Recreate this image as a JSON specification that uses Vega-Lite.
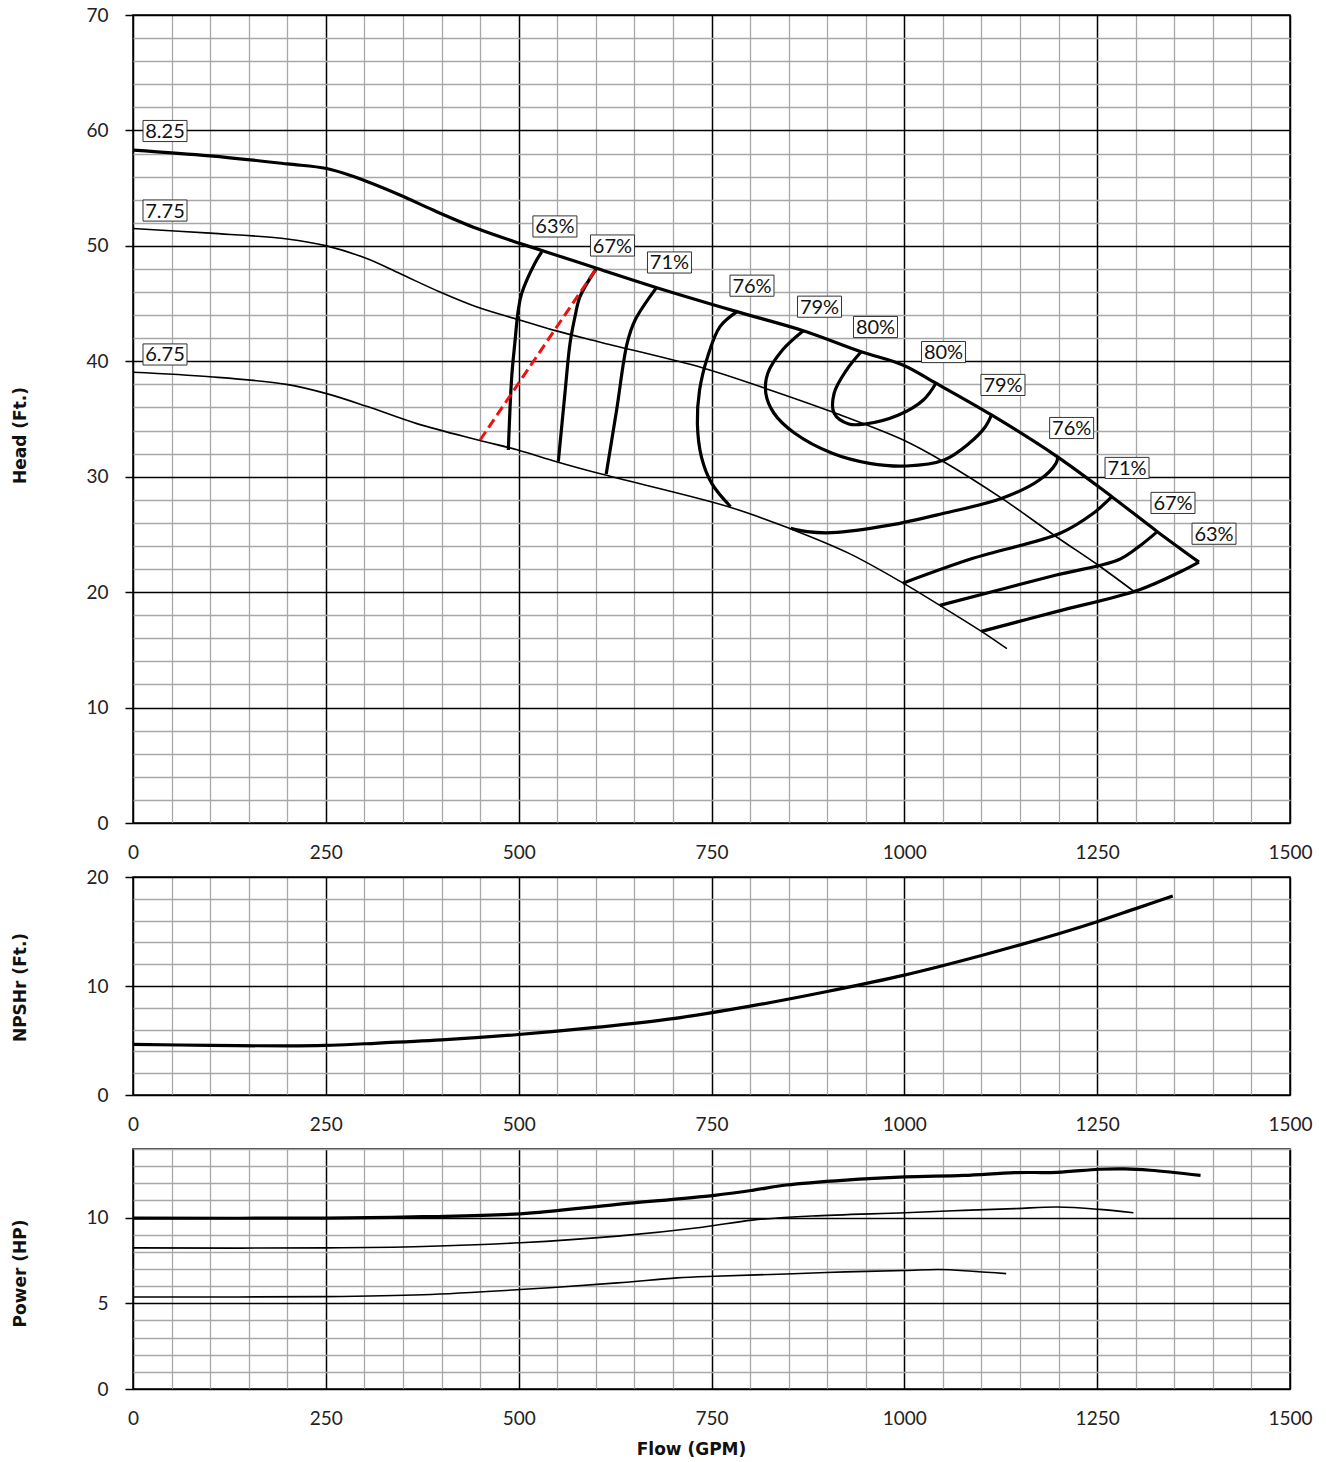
{
  "$schema": "https://vega.github.io/schema/vega-lite/v6.json",
  "padding": {"left": 10, "top": 5, "right": 5, "bottom": 0},
  "bounds": "flush",
  "spacing": 54,
  "config": {
    "view": {"stroke": "#000", "strokeWidth": 1.5},
    "axis": {
      "labelFont": "Lato", "labelFontSize": 19, "labelColor": "#222",
      "titleFont": "DejaVu Sans", "titleFontWeight": "bold", "titleFontSize": 17, "titleColor": "#111",
      "domain": false, "labelOverlap": false, "labelFlush": false, "gridOpacity": 1
    }
  },
  "datasets": {
    "head": [
      {"s": "8.25", "i": 0, "q": 0, "h": 58.3}, {"s": "8.25", "i": 1, "q": 100, "h": 57.8}, {"s": "8.25", "i": 2, "q": 200, "h": 57.1}, {"s": "8.25", "i": 3, "q": 251, "h": 56.7}, {"s": "8.25", "i": 4, "q": 286, "h": 56.0}, {"s": "8.25", "i": 5, "q": 346, "h": 54.4}, {"s": "8.25", "i": 6, "q": 389, "h": 53.1}, {"s": "8.25", "i": 7, "q": 446, "h": 51.5}, {"s": "8.25", "i": 8, "q": 502, "h": 50.2}, {"s": "8.25", "i": 9, "q": 530, "h": 49.6}, {"s": "8.25", "i": 10, "q": 601, "h": 48.06}, {"s": "8.25", "i": 11, "q": 678, "h": 46.4}, {"s": "8.25", "i": 12, "q": 783, "h": 44.3}, {"s": "8.25", "i": 13, "q": 869, "h": 42.65}, {"s": "8.25", "i": 14, "q": 944, "h": 40.83}, {"s": "8.25", "i": 15, "q": 998, "h": 39.68}, {"s": "8.25", "i": 16, "q": 1041, "h": 38.1}, {"s": "8.25", "i": 17, "q": 1113, "h": 35.35}, {"s": "8.25", "i": 18, "q": 1199, "h": 31.7}, {"s": "8.25", "i": 19, "q": 1269, "h": 28.27}, {"s": "8.25", "i": 20, "q": 1328, "h": 25.24}, {"s": "8.25", "i": 21, "q": 1382, "h": 22.6},
      {"s": "7.75", "i": 0, "q": 0, "h": 51.5}, {"s": "7.75", "i": 1, "q": 100, "h": 51.1}, {"s": "7.75", "i": 2, "q": 200, "h": 50.6}, {"s": "7.75", "i": 3, "q": 251, "h": 50.0}, {"s": "7.75", "i": 4, "q": 303, "h": 48.9}, {"s": "7.75", "i": 5, "q": 346, "h": 47.6}, {"s": "7.75", "i": 6, "q": 398, "h": 46.0}, {"s": "7.75", "i": 7, "q": 446, "h": 44.7}, {"s": "7.75", "i": 8, "q": 500, "h": 43.6}, {"s": "7.75", "i": 9, "q": 545, "h": 42.7}, {"s": "7.75", "i": 10, "q": 606, "h": 41.65}, {"s": "7.75", "i": 11, "q": 740, "h": 39.4}, {"s": "7.75", "i": 12, "q": 820, "h": 37.65}, {"s": "7.75", "i": 13, "q": 907, "h": 35.6}, {"s": "7.75", "i": 14, "q": 998, "h": 33.2}, {"s": "7.75", "i": 15, "q": 1051, "h": 31.3}, {"s": "7.75", "i": 16, "q": 1127, "h": 28.1}, {"s": "7.75", "i": 17, "q": 1197, "h": 24.8}, {"s": "7.75", "i": 18, "q": 1251, "h": 22.35}, {"s": "7.75", "i": 19, "q": 1299, "h": 20.0},
      {"s": "6.75", "i": 0, "q": 0, "h": 39.05}, {"s": "6.75", "i": 1, "q": 100, "h": 38.66}, {"s": "6.75", "i": 2, "q": 199, "h": 38.0}, {"s": "6.75", "i": 3, "q": 251, "h": 37.2}, {"s": "6.75", "i": 4, "q": 303, "h": 36.1}, {"s": "6.75", "i": 5, "q": 368, "h": 34.6}, {"s": "6.75", "i": 6, "q": 446, "h": 33.2}, {"s": "6.75", "i": 7, "q": 500, "h": 32.3}, {"s": "6.75", "i": 8, "q": 549, "h": 31.3}, {"s": "6.75", "i": 9, "q": 606, "h": 30.25}, {"s": "6.75", "i": 10, "q": 772, "h": 27.4}, {"s": "6.75", "i": 11, "q": 852, "h": 25.5}, {"s": "6.75", "i": 12, "q": 927, "h": 23.4}, {"s": "6.75", "i": 13, "q": 998, "h": 20.8}, {"s": "6.75", "i": 14, "q": 1046, "h": 18.85}, {"s": "6.75", "i": 15, "q": 1100, "h": 16.6}, {"s": "6.75", "i": 16, "q": 1133, "h": 15.1},
      {"s": "e63L", "i": 0, "q": 530, "h": 49.49}, {"s": "e63L", "i": 1, "q": 521, "h": 48.49}, {"s": "e63L", "i": 2, "q": 504, "h": 45.89}, {"s": "e63L", "i": 3, "q": 499.5, "h": 44.44}, {"s": "e63L", "i": 4, "q": 495, "h": 41.56}, {"s": "e63L", "i": 5, "q": 491, "h": 38.66}, {"s": "e63L", "i": 6, "q": 486.6, "h": 32.31},
      {"s": "e67L", "i": 0, "q": 601, "h": 48.06}, {"s": "e67L", "i": 1, "q": 579.5, "h": 45.6}, {"s": "e67L", "i": 2, "q": 573, "h": 43.86}, {"s": "e67L", "i": 3, "q": 566.6, "h": 41.56}, {"s": "e67L", "i": 4, "q": 560, "h": 37.23}, {"s": "e67L", "i": 5, "q": 551.4, "h": 31.3},
      {"s": "e71L", "i": 0, "q": 678, "h": 46.32}, {"s": "e71L", "i": 1, "q": 651, "h": 43.58}, {"s": "e71L", "i": 2, "q": 640.6, "h": 41.56}, {"s": "e71L", "i": 3, "q": 627, "h": 35.78}, {"s": "e71L", "i": 4, "q": 613.5, "h": 30.24},
      {"s": "e76L", "i": 0, "q": 783, "h": 44.3}, {"s": "e76L", "i": 1, "q": 761, "h": 43.0}, {"s": "e76L", "i": 2, "q": 745, "h": 40.4}, {"s": "e76L", "i": 3, "q": 734.5, "h": 37.5}, {"s": "e76L", "i": 4, "q": 731.7, "h": 34.6}, {"s": "e76L", "i": 5, "q": 737, "h": 31.7}, {"s": "e76L", "i": 6, "q": 750.5, "h": 29.4}, {"s": "e76L", "i": 7, "q": 774.8, "h": 27.4},
      {"s": "e76B", "i": 0, "q": 852.7, "h": 25.53}, {"s": "e76B", "i": 1, "q": 874, "h": 25.24}, {"s": "e76B", "i": 2, "q": 906, "h": 25.15}, {"s": "e76B", "i": 3, "q": 981, "h": 25.8}, {"s": "e76B", "i": 4, "q": 1051, "h": 26.83}, {"s": "e76B", "i": 5, "q": 1126.6, "h": 28.13}, {"s": "e76B", "i": 6, "q": 1175, "h": 29.71}, {"s": "e76B", "i": 7, "q": 1196.6, "h": 31.16}, {"s": "e76B", "i": 8, "q": 1199, "h": 31.7},
      {"s": "e79", "i": 0, "q": 869, "h": 42.65}, {"s": "e79", "i": 1, "q": 842, "h": 40.98}, {"s": "e79", "i": 2, "q": 823, "h": 38.96}, {"s": "e79", "i": 3, "q": 820.4, "h": 37.23}, {"s": "e79", "i": 4, "q": 831, "h": 35.5}, {"s": "e79", "i": 5, "q": 858, "h": 33.76}, {"s": "e79", "i": 6, "q": 906.5, "h": 32.03}, {"s": "e79", "i": 7, "q": 954.8, "h": 31.16}, {"s": "e79", "i": 8, "q": 1003, "h": 30.93}, {"s": "e79", "i": 9, "q": 1051.5, "h": 31.45}, {"s": "e79", "i": 10, "q": 1084, "h": 32.89}, {"s": "e79", "i": 11, "q": 1105, "h": 34.33}, {"s": "e79", "i": 12, "q": 1113, "h": 35.35},
      {"s": "e80", "i": 0, "q": 944, "h": 40.83}, {"s": "e80", "i": 1, "q": 925, "h": 39.24}, {"s": "e80", "i": 2, "q": 909, "h": 37.23}, {"s": "e80", "i": 3, "q": 909, "h": 35.5}, {"s": "e80", "i": 4, "q": 928, "h": 34.57}, {"s": "e80", "i": 5, "q": 949, "h": 34.57}, {"s": "e80", "i": 6, "q": 992.5, "h": 35.35}, {"s": "e80", "i": 7, "q": 1024.7, "h": 36.65}, {"s": "e80", "i": 8, "q": 1041, "h": 38.1},
      {"s": "e71R", "i": 0, "q": 1269, "h": 28.27}, {"s": "e71R", "i": 1, "q": 1245, "h": 26.83}, {"s": "e71R", "i": 2, "q": 1202, "h": 25.1}, {"s": "e71R", "i": 3, "q": 1089, "h": 22.93}, {"s": "e71R", "i": 4, "q": 998, "h": 20.77},
      {"s": "e67R", "i": 0, "q": 1328, "h": 25.24}, {"s": "e67R", "i": 1, "q": 1304, "h": 23.94}, {"s": "e67R", "i": 2, "q": 1277, "h": 22.78}, {"s": "e67R", "i": 3, "q": 1197, "h": 21.48}, {"s": "e67R", "i": 4, "q": 1046, "h": 18.85},
      {"s": "e63R", "i": 0, "q": 1382, "h": 22.6}, {"s": "e63R", "i": 1, "q": 1358, "h": 21.77}, {"s": "e63R", "i": 2, "q": 1304, "h": 20.19}, {"s": "e63R", "i": 3, "q": 1197, "h": 18.31}, {"s": "e63R", "i": 4, "q": 1100, "h": 16.6}
    ],
    "bep": [
      {"s": "red", "i": 0, "q": 450, "h": 33.18}, {"s": "red", "i": 1, "q": 601, "h": 48.06}
    ],
    "labels": [
      {"t": "8.25", "q": 41.5, "h": 59.95}, {"t": "7.75", "q": 41.5, "h": 53.06}, {"t": "6.75", "q": 41.5, "h": 40.59},
      {"t": "63%", "q": 547, "h": 51.68}, {"t": "67%", "q": 621.6, "h": 50.03}, {"t": "71%", "q": 695.5, "h": 48.56},
      {"t": "76%", "q": 802.5, "h": 46.55}, {"t": "79%", "q": 890, "h": 44.73}, {"t": "80%", "q": 962.6, "h": 42.97},
      {"t": "80%", "q": 1050.8, "h": 40.8}, {"t": "79%", "q": 1127.9, "h": 37.95}, {"t": "76%", "q": 1216.9, "h": 34.22},
      {"t": "71%", "q": 1288.7, "h": 30.76}, {"t": "67%", "q": 1348.3, "h": 27.73}, {"t": "63%", "q": 1401.5, "h": 25.06}
    ],
    "npsh": [
      {"i": 0, "q": 0, "n": 4.65}, {"i": 1, "q": 100, "n": 4.55}, {"i": 2, "q": 200, "n": 4.5}, {"i": 3, "q": 250, "n": 4.55}, {"i": 4, "q": 300, "n": 4.7}, {"i": 5, "q": 400, "n": 5.05}, {"i": 6, "q": 500, "n": 5.55}, {"i": 7, "q": 600, "n": 6.2}, {"i": 8, "q": 700, "n": 7.0}, {"i": 9, "q": 800, "n": 8.15}, {"i": 10, "q": 900, "n": 9.5}, {"i": 11, "q": 1000, "n": 11.0}, {"i": 12, "q": 1100, "n": 12.8}, {"i": 13, "q": 1200, "n": 14.8}, {"i": 14, "q": 1250, "n": 15.9}, {"i": 15, "q": 1300, "n": 17.1}, {"i": 16, "q": 1348, "n": 18.25}
    ],
    "power": [
      {"s": "8.25", "i": 0, "q": 0, "p": 9.97}, {"s": "8.25", "i": 1, "q": 250, "p": 9.97}, {"s": "8.25", "i": 2, "q": 376, "p": 10.05}, {"s": "8.25", "i": 3, "q": 502, "p": 10.22}, {"s": "8.25", "i": 4, "q": 628, "p": 10.77}, {"s": "8.25", "i": 5, "q": 754, "p": 11.3}, {"s": "8.25", "i": 6, "q": 803, "p": 11.59}, {"s": "8.25", "i": 7, "q": 847, "p": 11.9}, {"s": "8.25", "i": 8, "q": 924, "p": 12.19}, {"s": "8.25", "i": 9, "q": 1001, "p": 12.37}, {"s": "8.25", "i": 10, "q": 1077, "p": 12.46}, {"s": "8.25", "i": 11, "q": 1143, "p": 12.62}, {"s": "8.25", "i": 12, "q": 1198, "p": 12.64}, {"s": "8.25", "i": 13, "q": 1253, "p": 12.82}, {"s": "8.25", "i": 14, "q": 1286, "p": 12.84}, {"s": "8.25", "i": 15, "q": 1319, "p": 12.76}, {"s": "8.25", "i": 16, "q": 1384, "p": 12.46},
      {"s": "7.75", "i": 0, "q": 0, "p": 8.23}, {"s": "7.75", "i": 1, "q": 250, "p": 8.23}, {"s": "7.75", "i": 2, "q": 376, "p": 8.31}, {"s": "7.75", "i": 3, "q": 502, "p": 8.53}, {"s": "7.75", "i": 4, "q": 628, "p": 8.92}, {"s": "7.75", "i": 5, "q": 738, "p": 9.44}, {"s": "7.75", "i": 6, "q": 803, "p": 9.85}, {"s": "7.75", "i": 7, "q": 880, "p": 10.09}, {"s": "7.75", "i": 8, "q": 1001, "p": 10.28}, {"s": "7.75", "i": 9, "q": 1077, "p": 10.42}, {"s": "7.75", "i": 10, "q": 1143, "p": 10.52}, {"s": "7.75", "i": 11, "q": 1198, "p": 10.62}, {"s": "7.75", "i": 12, "q": 1253, "p": 10.48}, {"s": "7.75", "i": 13, "q": 1297, "p": 10.28},
      {"s": "6.75", "i": 0, "q": 0, "p": 5.37}, {"s": "6.75", "i": 1, "q": 250, "p": 5.39}, {"s": "6.75", "i": 2, "q": 376, "p": 5.5}, {"s": "6.75", "i": 3, "q": 502, "p": 5.8}, {"s": "6.75", "i": 4, "q": 628, "p": 6.19}, {"s": "6.75", "i": 5, "q": 705, "p": 6.48}, {"s": "6.75", "i": 6, "q": 754, "p": 6.58}, {"s": "6.75", "i": 7, "q": 847, "p": 6.71}, {"s": "6.75", "i": 8, "q": 924, "p": 6.83}, {"s": "6.75", "i": 9, "q": 1001, "p": 6.91}, {"s": "6.75", "i": 10, "q": 1045, "p": 6.97}, {"s": "6.75", "i": 11, "q": 1088, "p": 6.87}, {"s": "6.75", "i": 12, "q": 1132, "p": 6.73}
    ]
  },
  "vconcat": [
    {
      "width": 1157, "height": 808,
      "encoding": {
        "x": {"field": "q", "type": "quantitative", "scale": {"domain": [0, 1500], "nice": false, "zero": false},
          "axis": {"title": null, "format": "d", "values": [0,50,100,150,200,250,300,350,400,450,500,550,600,650,700,750,800,850,900,950,1000,1050,1100,1150,1200,1250,1300,1350,1400,1450,1500],
            "labelExpr": "datum.value % 250 === 0 ? datum.label : ''", "tickSize": 0, "labelPadding": 20,
            "gridColor": {"condition": {"test": "datum.value % 250 === 0", "value": "#000"}, "value": "#a8a8a8"},
            "gridWidth": {"condition": {"test": "datum.value % 250 === 0", "value": 1.5}, "value": 1.3}}},
        "y": {"field": "h", "type": "quantitative", "scale": {"domain": [0, 70], "nice": false},
          "axis": {"title": "Head (Ft.)", "titleX": -104, "titleY": 420, "titleAngle": -90, "titleBaseline": "bottom", "titleAlign": "center",
            "values": [0,2,4,6,8,10,12,14,16,18,20,22,24,26,28,30,32,34,36,38,40,42,44,46,48,50,52,54,56,58,60,62,64,66,68,70],
            "labelExpr": "datum.value % 10 === 0 ? datum.label : ''", "tickSize": 8, "labelPadding": 17, "tickWidth": 1.5,
            "tickColor": {"condition": {"test": "datum.value % 10 === 0", "value": "#000"}, "value": "transparent"},
            "gridColor": {"condition": {"test": "datum.value % 10 === 0", "value": "#000"}, "value": "#a8a8a8"},
            "gridWidth": {"condition": {"test": "datum.value % 10 === 0", "value": 1.5}, "value": 1.3}}}
      },
      "layer": [
        {"data": {"name": "head"}, "transform": [{"filter": "datum.s === '7.75' || datum.s === '6.75'"}],
         "mark": {"type": "line", "interpolate": "catmull-rom", "color": "#000", "strokeWidth": 1.6},
         "encoding": {"detail": {"field": "s"}, "order": {"field": "i", "type": "quantitative"}}},
        {"data": {"name": "head"}, "transform": [{"filter": "datum.s !== '7.75' && datum.s !== '6.75'"}],
         "mark": {"type": "line", "interpolate": "catmull-rom", "color": "#000", "strokeWidth": 3.2, "strokeJoin": "round"},
         "encoding": {"detail": {"field": "s"}, "order": {"field": "i", "type": "quantitative"}}},
        {"data": {"name": "bep"},
         "mark": {"type": "line", "color": "#ee1111", "strokeWidth": 3, "strokeDash": [10, 5]},
         "encoding": {"order": {"field": "i", "type": "quantitative"}}},
        {"data": {"name": "labels"},
         "mark": {"type": "point", "shape": "M-1,-0.48L1,-0.48L1,0.48L-1,0.48Z", "size": 1936, "filled": true, "fill": "#fff", "stroke": "#333", "strokeWidth": 1, "opacity": 1}},
        {"data": {"name": "labels"},
         "mark": {"type": "text", "font": "Lato", "fontSize": 20, "color": "#111", "align": "center", "baseline": "middle", "dy": 1},
         "encoding": {"text": {"field": "t"}}}
      ]
    },
    {
      "width": 1157, "height": 218,
      "data": {"name": "npsh"},
      "mark": {"type": "line", "interpolate": "catmull-rom", "color": "#000", "strokeWidth": 3.2},
      "encoding": {
        "x": {"field": "q", "type": "quantitative", "scale": {"domain": [0, 1500], "nice": false, "zero": false},
          "axis": {"title": null, "format": "d", "values": [0,50,100,150,200,250,300,350,400,450,500,550,600,650,700,750,800,850,900,950,1000,1050,1100,1150,1200,1250,1300,1350,1400,1450,1500],
            "labelExpr": "datum.value % 250 === 0 ? datum.label : ''", "tickSize": 0, "labelPadding": 20,
            "gridColor": {"condition": {"test": "datum.value % 250 === 0", "value": "#000"}, "value": "#a8a8a8"},
            "gridWidth": {"condition": {"test": "datum.value % 250 === 0", "value": 1.5}, "value": 1.3}}},
        "y": {"field": "n", "type": "quantitative", "scale": {"domain": [0, 20], "nice": false},
          "axis": {"title": "NPSHr (Ft.)", "titleX": -104, "titleY": 110, "titleAngle": -90, "titleBaseline": "bottom", "titleAlign": "center",
            "values": [0,2,4,6,8,10,12,14,16,18,20],
            "labelExpr": "datum.value % 10 === 0 ? datum.label : ''", "tickSize": 8, "labelPadding": 17, "tickWidth": 1.5,
            "tickColor": {"condition": {"test": "datum.value % 10 === 0", "value": "#000"}, "value": "transparent"},
            "gridColor": {"condition": {"test": "datum.value % 10 === 0", "value": "#000"}, "value": "#a8a8a8"},
            "gridWidth": {"condition": {"test": "datum.value % 10 === 0", "value": 1.5}, "value": 1.3}}},
        "order": {"field": "i", "type": "quantitative"}
      }
    },
    {
      "width": 1157, "height": 240,
      "data": {"name": "power"},
      "encoding": {
        "x": {"field": "q", "type": "quantitative", "scale": {"domain": [0, 1500], "nice": false, "zero": false},
          "axis": {"title": "Flow (GPM)", "titleX": 558, "titleY": 52, "titleBaseline": "top", "titleAlign": "center", "format": "d",
            "values": [0,50,100,150,200,250,300,350,400,450,500,550,600,650,700,750,800,850,900,950,1000,1050,1100,1150,1200,1250,1300,1350,1400,1450,1500],
            "labelExpr": "datum.value % 250 === 0 ? datum.label : ''", "tickSize": 0, "labelPadding": 20,
            "gridColor": {"condition": {"test": "datum.value % 250 === 0", "value": "#000"}, "value": "#a8a8a8"},
            "gridWidth": {"condition": {"test": "datum.value % 250 === 0", "value": 1.5}, "value": 1.3}}},
        "y": {"field": "p", "type": "quantitative", "scale": {"domain": [0, 14], "nice": false},
          "axis": {"title": "Power (HP)", "titleX": -104, "titleY": 124, "titleAngle": -90, "titleBaseline": "bottom", "titleAlign": "center",
            "values": [0,1,2,3,4,5,6,7,8,9,10,11,12,13,14],
            "labelExpr": "datum.value % 5 === 0 ? datum.label : ''", "tickSize": 8, "labelPadding": 17, "tickWidth": 1.5,
            "tickColor": {"condition": {"test": "datum.value % 5 === 0", "value": "#000"}, "value": "transparent"},
            "gridColor": {"condition": {"test": "datum.value % 5 === 0", "value": "#000"}, "value": "#a8a8a8"},
            "gridWidth": {"condition": {"test": "datum.value % 5 === 0", "value": 1.5}, "value": 1.3}}},
        "order": {"field": "i", "type": "quantitative"},
        "detail": {"field": "s"}
      },
      "layer": [
        {"transform": [{"filter": "datum.s === '8.25'"}],
         "mark": {"type": "line", "interpolate": "catmull-rom", "color": "#000", "strokeWidth": 3.2}},
        {"transform": [{"filter": "datum.s !== '8.25'"}],
         "mark": {"type": "line", "interpolate": "catmull-rom", "color": "#000", "strokeWidth": 1.6}}
      ]
    }
  ]
}
